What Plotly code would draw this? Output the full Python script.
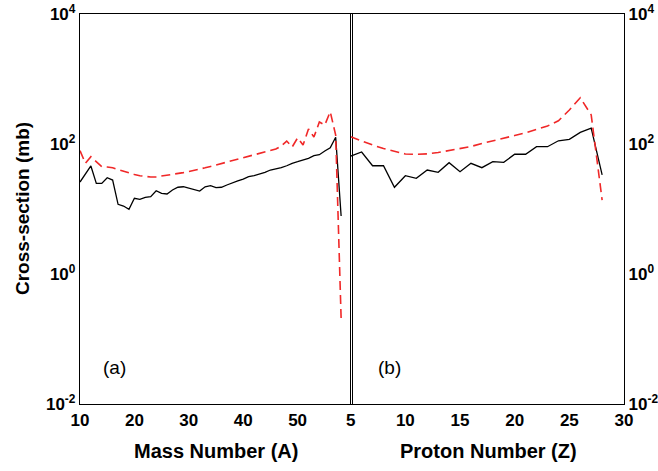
import plotly.graph_objects as go

# ---- data ----
mass_A = list(range(10, 59))
mass_black = [26.0, 34.5, 45.9, 24.8, 24.8, 30.3, 27.9, 11.8, 11.1, 9.9,
              14.6, 14.1, 15.1, 15.5, 19.1, 17.4, 17.0, 19.6, 21.6, 22.0,
              20.8, 19.6, 18.9, 22.0, 22.8, 21.3, 21.6, 23.4, 24.8, 27.0,
              28.9, 31.4, 32.5, 34.2, 36.7, 39.8, 41.2, 43.2, 46.3, 50.5,
              53.4, 56.7, 60.3, 66.1, 68.4, 78.0, 87.7, 126.8, 7.8]
mass_red = [78.9, 50.5, 63.8, 53.0, 44.8, 44.3, 43.2, 40.5, 38.0, 35.8,
            33.9, 32.5, 31.5, 31.0, 31.2, 32.0, 32.9, 34.3, 35.2, 36.3,
            37.6, 39.1, 40.9, 43.0, 45.2, 47.5, 50.5, 53.1, 55.7, 58.8,
            62.0, 65.3, 67.7, 70.9, 74.0, 78.0, 83.7, 93.1, 111, 89.9,
            124, 96.5, 170, 128, 218, 196, 314, 137, 0.208]

proton_Z = list(range(5, 29))
proton_black = [65.3, 75.3, 46.3, 46.3, 21.6, 32.5, 29.7, 39.8, 36.7, 51.6,
                37.5, 50.5, 43.2, 53.4, 52.3, 69.5, 69.5, 90.8, 90.8, 112,
                118, 151, 175, 33.4]
proton_red = [129.5, 111, 96.5, 85.3, 76.7, 70.2, 69.5, 70.6, 74, 78.9,
              83.7, 91.5, 102, 111, 122, 135, 149, 167, 189, 228,
              333, 515, 280, 13.7]

mass_ticks = [10, 20, 30, 40, 50]
proton_ticks = [5, 10, 15, 20, 25, 30]
y_decades = [1e-2, 1e-1, 1, 10, 100, 1e3, 1e4]
y_labels = [1e-2, 1, 100, 1e4]
y_ticktext = ['10<sup>-2</sup>', '10<sup>0</sup>', '10<sup>2</sup>', '10<sup>4</sup>']
y_minor = [m * 10 ** e for e in range(-2, 4) for m in (2.5, 5, 7.5)]

FONT = "Liberation Sans, Arial, Helvetica, sans-serif"
RED = "#f02828"
mass_range = [10, 60]
proton_range = [5, 30]
y_range = [-2, 4]

fig = go.Figure()
fig.add_trace(go.Scatter(x=mass_A, y=mass_black, xaxis='x', yaxis='y', mode='lines',
                         line=dict(color='black', width=1.3), showlegend=False))
fig.add_trace(go.Scatter(x=mass_A, y=mass_red, xaxis='x', yaxis='y', mode='lines',
                         line=dict(color=RED, width=1.6, dash='9px,5px'), showlegend=False))
fig.add_trace(go.Scatter(x=proton_Z, y=proton_black, xaxis='x2', yaxis='y2', mode='lines',
                         line=dict(color='black', width=1.3), showlegend=False))
fig.add_trace(go.Scatter(x=proton_Z, y=proton_red, xaxis='x2', yaxis='y2', mode='lines',
                         line=dict(color=RED, width=1.6, dash='9px,5px'), showlegend=False))

tickfont = dict(family=FONT, size=17, color='black', weight='bold')
gap = 1.3 / 544.0
dom_left = [0, 0.5]
dom_right = [0.5 - gap, 1]

main_common = dict(ticks='', showline=True, linecolor='black', linewidth=1.3, mirror=True,
                   showgrid=False, zeroline=False, tickfont=tickfont, automargin=False)


def tick_axis(kind, overlay, side, position, domain, rng, tickvals, minor):
    d = dict(overlaying=overlay, anchor='free', position=position, side=side,
             domain=domain, range=rng, tickmode='array', tickvals=tickvals,
             ticks='outside', ticklen=10, tickwidth=1.3, tickcolor='black',
             showticklabels=False, showline=False, showgrid=False, zeroline=False,
             automargin=False,
             minor=dict(ticks='outside', ticklen=6, tickwidth=1.1, tickcolor='black',
                        showgrid=False, **minor))
    if kind == 'log':
        d['type'] = 'log'
    return d


mass_minor = dict(tickmode='linear', tick0=10, dtick=2)
proton_minor = dict(tickmode='linear', tick0=5, dtick=1)
y_minor_spec = dict(tickmode='array', tickvals=y_minor)

fig.update_layout(
    width=658, height=471,
    margin=dict(l=80, r=34, t=14, b=67),
    paper_bgcolor='white', plot_bgcolor='rgba(0,0,0,0)',
    xaxis=dict(domain=dom_left, range=mass_range, tickmode='array', tickvals=mass_ticks,
               anchor='y', **main_common),
    xaxis2=dict(domain=dom_right, range=proton_range, tickmode='array', tickvals=proton_ticks,
                anchor='y2', **main_common),
    yaxis=dict(anchor='x', domain=[0, 1], side='left', type='log', range=y_range,
               tickmode='array', tickvals=y_labels, ticktext=y_ticktext, **main_common),
    yaxis2=dict(anchor='x2', domain=[0, 1], side='right', type='log', range=y_range,
                tickmode='array', tickvals=y_labels, ticktext=y_ticktext, **main_common),
    # tick-only axes drawn on every frame edge, pointing into the plot
    xaxis3=tick_axis('lin', 'x', 'top', 0, dom_left, mass_range, mass_ticks, mass_minor),
    xaxis4=tick_axis('lin', 'x', 'bottom', 1, dom_left, mass_range, mass_ticks, mass_minor),
    xaxis5=tick_axis('lin', 'x2', 'top', 0, dom_right, proton_range, proton_ticks, proton_minor),
    xaxis6=tick_axis('lin', 'x2', 'bottom', 1, dom_right, proton_range, proton_ticks, proton_minor),
    yaxis3=tick_axis('log', 'y', 'right', 0, [0, 1], y_range, y_decades, y_minor_spec),
    yaxis4=tick_axis('log', 'y', 'left', 0.5, [0, 1], y_range, y_decades, y_minor_spec),
    yaxis5=tick_axis('log', 'y2', 'right', 0.5 - gap, [0, 1], y_range, y_decades, y_minor_spec),
    yaxis6=tick_axis('log', 'y2', 'left', 1, [0, 1], y_range, y_decades, y_minor_spec),
    annotations=[
        dict(text='<b>Mass Number (A)</b>', xref='paper', yref='paper', x=0.25, y=-0.12,
             xanchor='center', yanchor='middle', showarrow=False,
             font=dict(family=FONT, size=20, color='black')),
        dict(text='<b>Proton Number (Z)</b>', xref='paper', yref='paper', x=0.75, y=-0.12,
             xanchor='center', yanchor='middle', showarrow=False,
             font=dict(family=FONT, size=20, color='black')),
        dict(text='<b>Cross-section (mb)</b>', xref='paper', yref='paper', x=-0.1066, y=0.5,
             xanchor='center', yanchor='middle', showarrow=False, textangle=-90,
             font=dict(family=FONT, size=19, color='black')),
        dict(text='(a)', xref='paper', yref='paper', x=0.0643, y=0.094,
             xanchor='center', yanchor='middle', showarrow=False,
             font=dict(family=FONT, size=19, color='black')),
        dict(text='(b)', xref='paper', yref='paper', x=0.5689, y=0.094,
             xanchor='center', yanchor='middle', showarrow=False,
             font=dict(family=FONT, size=19, color='black')),
    ],
)

fig.write_html("out.html")
